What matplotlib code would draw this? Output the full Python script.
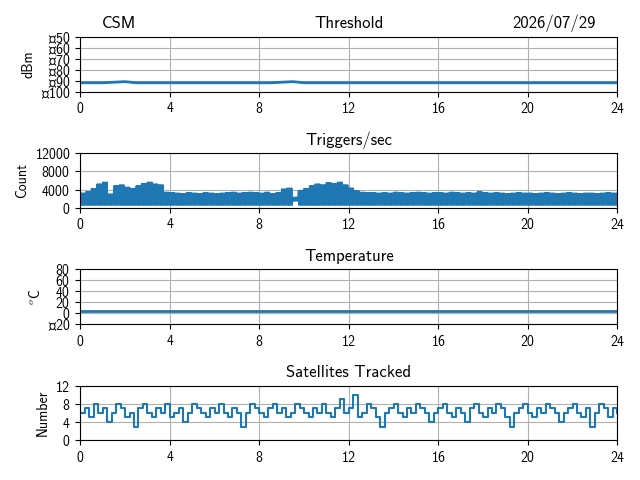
import numpy as np
import matplotlib
matplotlib.use('Agg')
import matplotlib.pyplot as plt

plt.rcParams['font.family'] = 'sans-serif'
plt.rcParams['font.sans-serif'] = ['cmss10']
plt.rcParams['mathtext.fontset'] = 'cm'
plt.rcParams['axes.formatter.use_mathtext'] = True
plt.rcParams['axes.unicode_minus'] = True

# threshold (dBm), every half hour
thresh = [-92, -92, -92, -91.5, -91, -92, -92, -92, -92, -92, -92, -92, -92, -92, -92, -92,
          -92, -92, -91.5, -91, -92, -92, -92, -92, -92, -92, -92, -92, -92, -92, -92, -92,
          -92, -92, -92, -92, -92, -92, -92, -92, -92, -92, -92, -92, -92, -92, -92, -92, -92]
t_thr = np.arange(len(thresh)) * 0.5

# triggers/sec: band top every quarter hour, band bottom mostly ~600
trig_hi = [3200, 3500, 4200, 5200, 5600, 3000, 4800, 5000, 4500, 4200, 4800, 5300, 5600, 5200, 5000, 3400,
           3300, 3200, 3100, 3300, 3200, 3100, 3300, 3200, 3100, 3200, 3300, 3400, 3200, 3300, 3400, 3300,
           3200, 3400, 3100, 3300, 4100, 4300, 2300, 3800, 4200, 4800, 5200, 5000, 5500, 5300, 5600, 5000,
           4300, 3700, 3400, 3300, 3300, 3200, 3300, 3200, 3400, 3300, 3200, 3300, 3400, 3300, 3200, 3300,
           3300, 3200, 3400, 3300, 3200, 3300, 3200, 3500, 3300, 3200, 3300, 3200, 3100, 3200, 3300, 3200,
           3200, 3100, 3200, 3300, 3200, 3100, 3200, 3300, 3200, 3100, 3200, 3200, 3100, 3200, 3300, 3200, 3200]
trig_lo = [600] * len(trig_hi)
trig_lo[38] = 1500
t_trig = []
trig = []
for i, (h, l) in enumerate(zip(trig_hi, trig_lo)):
    for k in range(12):
        t_trig.append(i * 0.25 + k * 0.02)
        trig.append(h if k % 2 == 0 else l)
t_trig = np.array(t_trig)
t_trig = t_trig[t_trig <= 24]
trig = trig[:len(t_trig)]

# temperature (C)
temp = [4.5] * 49
t_temp = np.arange(49) * 0.5

# satellites tracked, every 0.2 h
sats = [6, 7, 5, 8, 6, 7, 4, 6, 8, 7, 5, 6, 3, 7, 8, 6, 5, 7, 6, 8,
        5, 6, 7, 4, 6, 8, 7, 6, 5, 7, 6, 8, 6, 5, 7, 6, 3, 6, 8, 7,
        6, 5, 7, 8, 6, 7, 5, 6, 8, 7, 6, 5, 7, 6, 8, 6, 5, 7, 9, 6,
        7, 10, 5, 6, 8, 7, 5, 3, 6, 7, 8, 6, 5, 7, 6, 8, 7, 6, 4, 6,
        7, 8, 6, 5, 7, 6, 4, 7, 8, 6, 5, 7, 6, 8, 7, 5, 3, 6, 7, 8,
        6, 5, 7, 6, 8, 7, 6, 4, 6, 7, 8, 6, 5, 7, 3, 6, 8, 7, 5, 7, 6]
t_sats = np.arange(len(sats)) * 0.2

fig, axes = plt.subplots(4, 1, figsize=(6.4, 4.8))
specs = [
    (t_thr, thresh, 'dBm', (-100, -50), [-100, -90, -80, -70, -60, -50]),
    (t_trig, trig, 'Count', (0, 12000), [0, 4000, 8000, 12000]),
    (t_temp, temp, r'$^o$C', (-20, 80), [-20, 0, 20, 40, 60, 80]),
    (t_sats, sats, 'Number', (0, 12), [0, 4, 8, 12]),
]
titles = ['Threshold', 'Triggers/sec', 'Temperature', 'Satellites Tracked']
for ax, (x, y, lab, yl, yt), ttl in zip(axes, specs, titles):
    if ttl == 'Satellites Tracked':
        ax.plot(x, y, color='#1f77b4', lw=1.5, drawstyle='steps-post')
    elif ttl == 'Triggers/sec':
        ax.plot(x, y, color='#1f77b4', lw=1.0)
    else:
        ax.plot(x, y, color='#1f77b4', lw=2.0)
    ax.set_xlim(0, 24)
    ax.set_xticks(range(0, 25, 4))
    ax.set_ylim(*yl)
    ax.set_yticks(yt)
    ax.set_ylabel(lab)
    ax.set_title(ttl)
    ax.grid(True)
axes[0].set_title('CSM', loc='left', x=0.04)
axes[0].set_title('2026/07/29', loc='right', x=0.96)

plt.tight_layout()
plt.savefig('out.png', dpi=100)
